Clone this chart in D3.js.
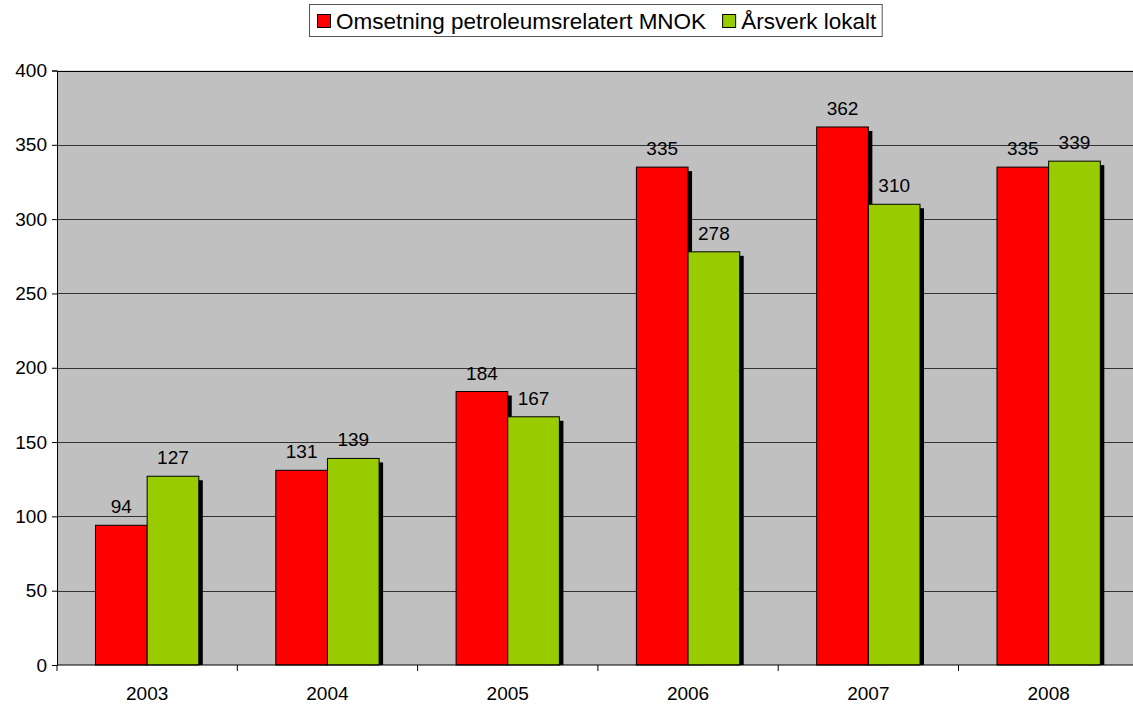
<!DOCTYPE html>
<html>
<head>
<meta charset="utf-8">
<title>Omsetning og årsverk</title>
<script src="https://cdn.jsdelivr.net/npm/d3@7"></script>
<style>
  body { margin: 0; background: #fff; }
  text { font-family: "Liberation Sans", Arial, sans-serif; fill: #000; }
</style>
</head>
<body>
<script>
// data
var years = ["2003", "2004", "2005", "2006", "2007", "2008"];
var omsetning = [94, 131, 184, 335, 362, 335];
var arsverk = [127, 139, 167, 278, 310, 339];
var seriesNames = ["Omsetning petroleumsrelatert MNOK", "Årsverk lokalt"];
var seriesColors = ["#ff0000", "#99cc00"];
var yTicks = [0, 50, 100, 150, 200, 250, 300, 350, 400];

var width = 1133, height = 708;
var plotLeft = 57, plotTop = 70.5, plotBottom = 665, plotRight = 57 + 6 * 180.3;

var svg = d3.select("body").append("svg").attr("width", width).attr("height", height);

var x0 = d3.scaleBand().domain(years).range([plotLeft, plotRight]).paddingInner(0.427).paddingOuter(0.2135);
var x1 = d3.scaleBand().domain([0, 1]).range([0, x0.bandwidth()]);
var y = d3.scaleLinear().domain([0, 400]).range([plotBottom, plotTop]);

// plot background
svg.append("rect")
   .attr("x", plotLeft).attr("y", plotTop)
   .attr("width", plotRight - plotLeft).attr("height", plotBottom - plotTop)
   .attr("fill", "#c0c0c0");

// gridlines
svg.append("g").selectAll("line")
   .data(yTicks.slice(1))
   .enter().append("line")
   .attr("x1", plotLeft).attr("x2", plotRight)
   .attr("y1", d => Math.round(y(d)) + 0.5).attr("y2", d => Math.round(y(d)) + 0.5)
   .attr("stroke", d => d == 400 ? "#000" : "#333")
   .attr("stroke-width", 1);

var rows = years.map((yr, i) => ({year: yr, vals: [omsetning[i], arsverk[i]]}));

var groups = svg.append("g").selectAll("g")
   .data(rows)
   .enter().append("g")
   .attr("transform", d => "translate(" + x0(d.year) + ",0)");

// shadows
groups.selectAll("rect.shadow")
   .data(d => d.vals)
   .enter().append("rect")
   .attr("class", "shadow")
   .attr("x", (d, i) => x1(i) + 4)
   .attr("y", d => y(d) + 4)
   .attr("width", x1.bandwidth())
   .attr("height", d => Math.max(0, plotBottom - y(d) - 4))
   .attr("fill", "#000");

groups.selectAll("rect.bar")
   .data(d => d.vals)
   .enter().append("rect")
   .attr("class", "bar")
   .attr("x", (d, i) => x1(i))
   .attr("y", d => y(d))
   .attr("width", x1.bandwidth())
   .attr("height", d => plotBottom - y(d))
   .attr("fill", (d, i) => seriesColors[i])
   .attr("stroke", "#000")
   .attr("stroke-width", 1);

groups.selectAll("text.val")
   .data(d => d.vals)
   .enter().append("text")
   .attr("class", "val")
   .attr("x", (d, i) => x1(i) + x1.bandwidth() / 2)
   .attr("y", d => y(d) - 12)
   .attr("text-anchor", "middle")
   .style("font-size", "19px")
   .text(d => d);

// y axis
var yAxis = d3.axisLeft(y).tickValues(yTicks).tickSize(5).tickPadding(5);
var gy = svg.append("g").attr("transform", "translate(" + plotLeft + ",0)").call(yAxis);
gy.selectAll("text").style("font-size", "19px").style("font-family", "Liberation Sans, Arial, sans-serif");
gy.selectAll("line, path").attr("stroke", "#000");

// x axis
var gx = svg.append("g").attr("transform", "translate(0," + plotBottom + ")");
gx.append("line").attr("x1", plotLeft).attr("x2", plotRight).attr("stroke", "#000");
gx.selectAll("line.tick")
   .data(d3.range(years.length + 1))
   .enter().append("line")
   .attr("class", "tick")
   .attr("x1", i => plotLeft + i * x0.step()).attr("x2", i => plotLeft + i * x0.step())
   .attr("y1", 0).attr("y2", 6)
   .attr("stroke", "#000");
gx.selectAll("text.lab")
   .data(years)
   .enter().append("text")
   .attr("class", "lab")
   .attr("x", d => x0(d) + x0.bandwidth() / 2)
   .attr("y", 35)
   .attr("text-anchor", "middle")
   .style("font-size", "19px")
   .text(d => d);

// legend
var leg = svg.append("g");
var legBox = leg.append("rect")
   .attr("x", 309.5).attr("y", 4.5).attr("height", 32)
   .attr("fill", "#fff").attr("stroke", "#555");
var lx = 317;
seriesNames.forEach(function(name, i) {
  leg.append("rect")
     .attr("x", lx + 0.5).attr("y", 14.5).attr("width", 13).attr("height", 13)
     .attr("fill", seriesColors[i]).attr("stroke", "#000");
  var t = leg.append("text")
     .attr("x", lx + 19).attr("y", 28.5)
     .style("font-size", "22.5px")
     .text(name);
  lx += 19 + t.node().getComputedTextLength() + 16;
});
legBox.attr("width", lx - 16 + 6 - 309.5);
</script>
</body>
</html>
